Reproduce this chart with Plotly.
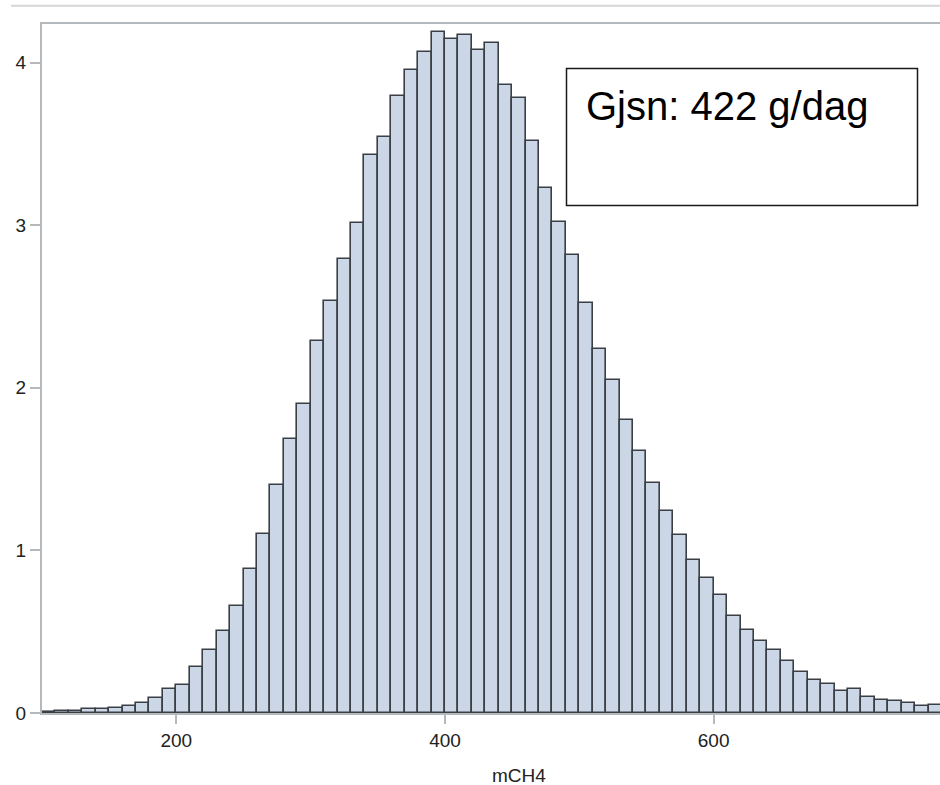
import plotly.graph_objects as go

# Histogram bins (lower edge, width 10) and bar heights (percent)
bin_starts = list(range(100, 770, 10))
bin_width = 10
percent = [
    0.008, 0.010, 0.015, 0.023, 0.024, 0.030, 0.043, 0.063, 0.092, 0.148,
    0.170, 0.285, 0.390, 0.504, 0.658, 0.884, 1.103, 1.405, 1.688, 1.903,
    2.290, 2.532, 2.795, 3.013, 3.430, 3.542, 3.795, 3.953, 4.065, 4.186,
    4.143, 4.172, 4.080, 4.119, 3.865, 3.785, 3.520, 3.229, 3.020, 2.819,
    2.522, 2.237, 2.046, 1.804, 1.610, 1.415, 1.242, 1.093, 0.943, 0.830,
    0.728, 0.595, 0.513, 0.443, 0.390, 0.318, 0.252, 0.205, 0.177, 0.133,
    0.146, 0.098, 0.078, 0.076, 0.062, 0.041, 0.049,
]
x_ticks = [200, 400, 600]
y_ticks = [0, 1, 2, 3, 4]
x_title = "mCH4"
note_text = "Gjsn: 422 g/dag"

centers = [s + bin_width / 2 for s in bin_starts]

W, H = 940, 785
L, R, T, B = 42, 0, 24, 72
pw, ph = W - L - R, H - T - B


def px_x(p):
    return (p - L) / pw


def px_y(p):
    return (H - B - p) / ph


fig = go.Figure()
fig.add_trace(go.Bar(
    x=centers, y=percent, width=[bin_width] * len(centers),
    marker=dict(color="#cbd6e6", line=dict(color="#3a3f45", width=1.6)),
    showlegend=False,
))

axis_color = "#b3b9bd"
fig.update_layout(
    width=W, height=H,
    margin=dict(l=L, r=R, t=T, b=B, pad=0),
    plot_bgcolor="white", paper_bgcolor="white",
    bargap=0,
    font=dict(family="Liberation Sans, Arial, sans-serif", color="#222222"),
    xaxis=dict(
        range=[100, 100 + pw / 1.3433], tickvals=x_ticks,
        ticks="outside", ticklen=9, tickcolor=axis_color, tickwidth=1.5,
        showline=True, linecolor=axis_color, linewidth=2, mirror=True,
        showgrid=False, zeroline=False,
        tickfont=dict(size=19, color="#222222"),
    ),
    yaxis=dict(
        range=[0, 689 / 162.6], tickvals=y_ticks,
        ticks="outside", ticklen=10, tickcolor=axis_color, tickwidth=1.5,
        showline=True, linecolor=axis_color, linewidth=2,
        showgrid=False, zeroline=False,
        tickfont=dict(size=19, color="#222222"),
    ),
    shapes=[
        dict(type="line", xref="paper", yref="paper",
             x0=px_x(11), x1=px_x(940), y0=px_y(5.7), y1=px_y(5.7),
             line=dict(color="#d6d6d6", width=2)),
        dict(type="rect", xref="paper", yref="paper",
             x0=px_x(566.5), x1=px_x(917.5), y0=px_y(205.5), y1=px_y(68.5),
             line=dict(color="#1a1a1a", width=1.5), fillcolor="white",
             layer="above"),
    ],
    annotations=[
        dict(text=note_text, xref="paper", yref="paper",
             x=px_x(584), y=px_y(106), xanchor="left", yanchor="middle",
             showarrow=False, font=dict(size=40, color="#000000",
                                         family="Liberation Sans, Arial, sans-serif")),
        dict(text=x_title, xref="paper", yref="paper",
             x=px_x(519), y=px_y(775), xanchor="center", yanchor="middle",
             showarrow=False, font=dict(size=19, color="#222222")),
    ],
)

fig.write_html(
    "out.html",
    config={"displayModeBar": False},
    post_script="document.body.style.margin='0';document.body.style.padding='0';"
                "document.body.style.overflow='hidden';",
)
